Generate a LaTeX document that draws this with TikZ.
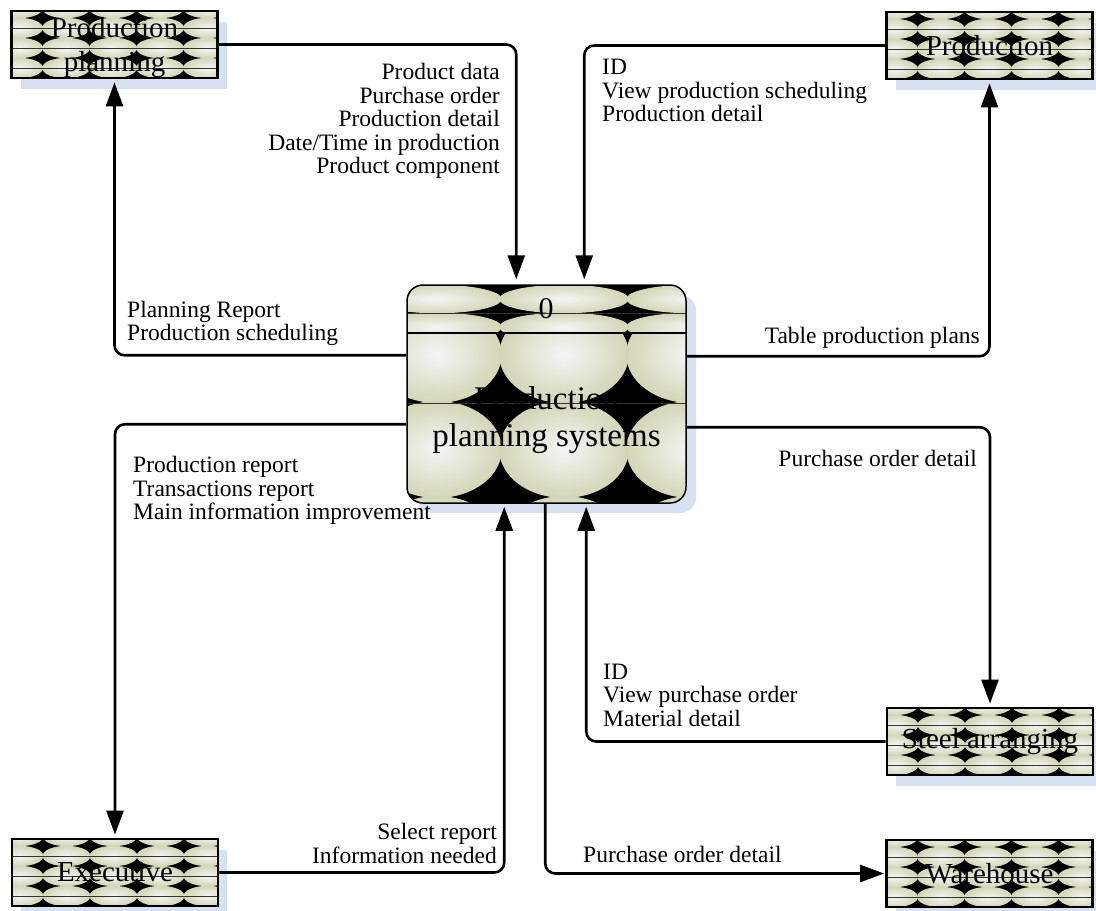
\documentclass[tikz,border=0pt]{standalone}
\usepackage{fontspec}
\setmainfont{Liberation Serif}
\usetikzlibrary{arrows.meta,calc}

\definecolor{bubin}{HTML}{F4F6F6}
\definecolor{bubout}{HTML}{D3D6B6}
\definecolor{shadowblue}{HTML}{D8E1F2}
\definecolor{seam}{HTML}{333333}

% grid of shaded bubbles: first centre (#1,#2), step #3 x #4, columns up to #5, rows up to #6
\newcommand\bubblegrid[6]{%
  \foreach \i in {-1,...,#5}{\foreach \j in {0,...,#6}{
    \shade[inner color=bubin,outer color=bubout]
      ({#1+\i*#3},{#2+\j*#4}) ellipse [x radius={#3*0.51}, y radius={#4*0.51}];}}}

% shadow and textured fill of an external entity whose top left corner is (#1,#2)
\newcommand\entitybg[2]{%
  \fill[shadowblue] (#1+9,#2+11) rectangle ++(206,67);
  \begin{scope}
    \clip (#1,#2) rectangle ++(206,67);
    \fill[black] (#1,#2) rectangle ++(206,67);
    \bubblegrid{#1+7.5}{#2-3}{47}{20}{4}{4}
    \foreach \k in {17,37,57}
      \draw[seam,line width=0.8pt] (#1,#2+\k) -- ++(206,0);
  \end{scope}}

\tikzset{
  entity/.style={draw, line width=2.8pt, minimum width=206pt, minimum height=67pt,
    inner sep=0pt, align=center, font=\fontsize{29}{34}\selectfont},
  procbox/.style={draw, line width=1.5pt, rounded corners=16pt,
    minimum width=279pt, minimum height=218pt, inner sep=0pt},
  lbl/.style={inner sep=0pt, font=\fontsize{23.5}{23.5}\selectfont,
    execute at begin node=\strut},
  flow/.style={line width=2.6pt, rounded corners=10pt,
    -{Triangle[length=24pt,width=17pt]}, shorten >=3pt},
}

\begin{document}
\begin{tikzpicture}[x=1pt, y=-1pt]
\useasboundingbox[fill=white] (0,0) rectangle (1096,911);

% ---- textured backgrounds ----
\entitybg{11.5}{11}
\entitybg{886.5}{12}
\entitybg{887}{708}
\entitybg{12}{839}
\entitybg{886.5}{840}

\fill[shadowblue, rounded corners=16pt] (417,295) rectangle (696,513);
\begin{scope}
  \clip[rounded corners=16pt] (407,285) rectangle (686,503);
  \fill[black] (407,285) rectangle (686,503);
  \begin{scope}
    \clip (407,285) rectangle (686,333);
    \bubblegrid{310}{299}{127}{28}{3}{1}
  \end{scope}
  \begin{scope}
    \clip (407,333) rectangle (686,503);
    \bubblegrid{310}{354.5}{127}{95}{3}{2}
  \end{scope}
  \draw[seam, line width=1pt] (407,313) -- (686,313);
  \draw[black, line width=1.5pt] (407,333) -- (686,333);
  \draw[seam, line width=1pt] (407,403) -- (686,403);
\end{scope}

% ---- external entities ----
\node[entity] (pp)    at (114.5,44.5) {\rule{0pt}{26pt}Production\\planning};
\node[entity] (prod)  at (989.5,45.5) {Production};
\node[entity] (steel) at (990,741.5)  {Steel arranging};
\node[entity] (exec)  at (115,872.5)  {Executive};
\node[entity] (wh)    at (989.5,873.5) {Warehouse};

% ---- process ----
\node[procbox] (proc) at (546.5,394) {};
\node[inner sep=0pt, font=\fontsize{30}{34}\selectfont] (procid) at (546,309) {0};
\node[inner sep=0pt, align=center, font=\fontsize{33}{37}\selectfont] (procname)
  at (546.5,420) {Production\\planning systems};

% ---- data flows ----
\draw[flow, shorten >=5pt] (pp.east) -| ($(proc.north west)+(110,0)$);
\draw[flow, shorten >=5pt] (prod.west) -| ($(proc.north west)+(178,0)$);
\draw[flow] ($(proc.north west)+(0,71)$) -| (pp.south);
\draw[flow] ($(proc.north west)+(0,140)$) -| (exec.north);
\draw[flow] ($(proc.north east)+(0,72)$) -| (prod.south);
\draw[flow] ($(proc.north east)+(0,143)$) -| (steel.north);
\draw[flow] (steel.west) -| ($(proc.south west)+(180,0)$);
\draw[flow] (exec.east) -| ($(proc.south west)+(98,0)$);
\draw[flow, shorten >=1pt] ($(proc.south west)+(139,0)$) |- (wh.west);

% ---- flow labels ----
\node[lbl, align=right, anchor=north east] (l1) at (500,63)
  {Product data\\Purchase order\\Production detail\\Date/Time in production\\Product component};
\node[lbl, align=left, anchor=north west] (l2) at (602,59)
  {ID\\View production scheduling\\Production detail};
\node[lbl, align=left, anchor=north west] (l3) at (127,300.5)
  {Planning Report\\Production scheduling};
\node[lbl, align=left, anchor=north west] (l4) at (133,456)
  {Production report\\Transactions report\\Main information improvement};
\node[lbl, align=right, anchor=north east] (l5) at (980,327)
  {Table production plans};
\node[lbl, align=right, anchor=north east] (l6) at (977,449.5)
  {Purchase order detail};
\node[lbl, align=left, anchor=north west] (l7) at (603,663.5)
  {ID\\View purchase order\\Material detail};
\node[lbl, align=right, anchor=north east] (l8) at (497,823)
  {Select report\\Information needed};
\node[lbl, align=left, anchor=north west] (l9) at (583,846)
  {Purchase order detail};
\end{tikzpicture}
\end{document}
